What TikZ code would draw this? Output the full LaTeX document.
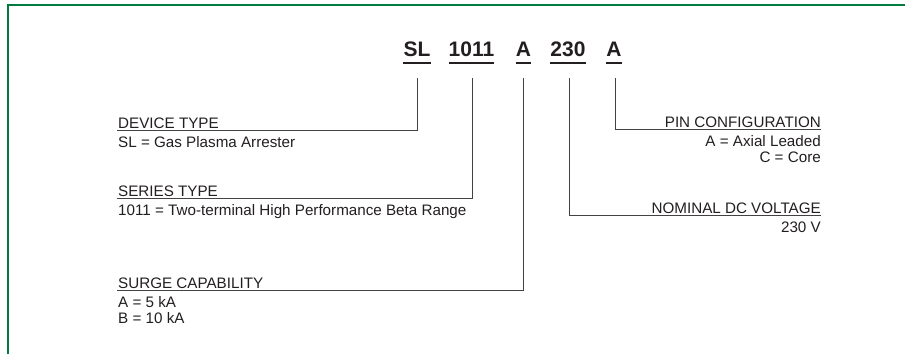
\documentclass[tikz,border=0pt]{standalone}
\usepackage{fontspec}
\setmainfont{Liberation Sans}
\definecolor{frame}{HTML}{007A3D}
\definecolor{ink}{HTML}{231F20}
\begin{document}
\begin{tikzpicture}[x=1pt,y=-1pt,
  code/.style={font=\fontsize{21}{24}\selectfont\bfseries, text=ink, inner sep=0pt, anchor=base},
  bar/.style={draw=ink, line width=2.6pt},
  lead/.style={draw=ink!85, line width=0.9pt},
  txt/.style={font=\fontsize{15.2}{17}\selectfont, text=ink, inner sep=0pt},
  lt/.style={txt, anchor=base west},
  rt/.style={txt, anchor=base east}]
\useasboundingbox (0,0) rectangle (905,354);
\fill[white] (0,0) rectangle (905,354);
\draw[frame, line width=2pt] (8,354) -- (8,5) -- (905,5);

% code letters
\node[code] (sl) at (417,56) {SL};
\node[code] (ser) at (471.5,56) {1011};
\node[code] (sur) at (523.5,56) {A};
\node[code] (vol) at (568,56) {230};
\node[code] (pin) at (614,56) {A};
\foreach \n in {sl,ser,sur,vol,pin}{
  \draw[bar] ([yshift=-7pt]\n.base west) -- ([yshift=-7pt]\n.base east);
}

% tops of leader lines
\coordinate (t1) at (417,78);
\coordinate (t2) at (472,78);
\coordinate (t3) at (523,78);
\coordinate (t4) at (569,78);
\coordinate (t5) at (615,78);

% left group
\coordinate (e1) at (117,130);
\coordinate (e2) at (117,198);
\coordinate (e3) at (117,290);
\node[lt] (h1) at (118,128) {DEVICE TYPE};
\node[lt] (b1) at (118,147) {SL = Gas Plasma Arrester};
\node[lt] (h2) at (118,196) {SERIES TYPE};
\node[lt] (b2) at (118,215) {1011 = Two-terminal High Performance Beta Range};
\node[lt] (h3) at (118,288) {SURGE CAPABILITY};
\node[lt] (b3a) at (118,307) {A = 5 kA};
\node[lt] (b3b) at (118,323) {B = 10 kA};
\draw[lead] (t1) |- (e1);
\draw[lead] (t2) |- (e2);
\draw[lead] (t3) |- (e3);

% right group
\coordinate (e4) at (821,215);
\coordinate (e5) at (821,129);
\node[rt] (h5) at (821,127) {PIN CONFIGURATION};
\node[rt] (b5a) at (821,146) {A = Axial Leaded};
\node[rt] (b5b) at (821,162) {C = Core};
\node[rt] (h4) at (821,213) {NOMINAL DC VOLTAGE};
\node[rt] (b4) at (821,232) {230 V};
\draw[lead] (t4) |- (e4);
\draw[lead] (t5) |- (e5);
\end{tikzpicture}
\end{document}
